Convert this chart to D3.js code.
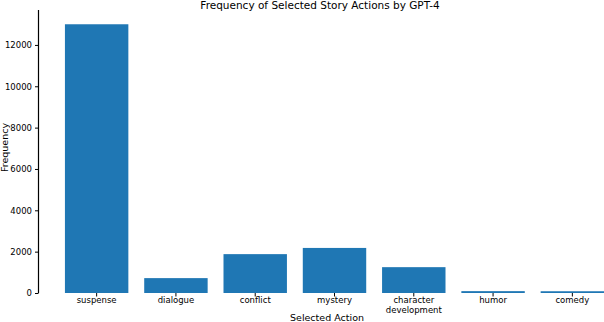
<!DOCTYPE html>
<html>
<head>
<meta charset="utf-8">
<script src="https://cdn.jsdelivr.net/npm/d3@7"></script>
<style>
  body { margin: 0; background: #fff; }
  text { font-family: "DejaVu Sans", sans-serif; fill: #000; }
</style>
</head>
<body>
<div id="chart"></div>
<script>
// data
const actions = ["suspense", "dialogue", "conflict", "mystery", "character development", "humor", "comedy"];
const counts = [13000, 720, 1880, 2180, 1250, 90, 85];
const yTicks = [0, 2000, 4000, 6000, 8000, 10000, 12000];

const width = 604, height = 322;
const margin = { top: 10, right: -8, bottom: 29, left: 38.5 };
const graphWidth = width - margin.left - margin.right;
const graphHeight = height - margin.top - margin.bottom;

const svg = d3.select("#chart").append("svg")
    .attr("width", width)
    .attr("height", height);

const graph = svg.append("g")
    .attr("transform", `translate(${margin.left},${margin.top})`);

const x = d3.scaleBand()
    .domain(actions)
    .range([18.5, 573.5])
    .paddingInner(0.2)
    .paddingOuter(0.1);

const y = d3.scaleLinear()
    .domain([0, 13690])
    .range([graphHeight, 0]);

// bars
graph.selectAll("rect")
    .data(actions)
    .enter().append("rect")
    .attr("x", d => x(d))
    .attr("y", (d, i) => y(counts[i]))
    .attr("width", x.bandwidth())
    .attr("height", (d, i) => graphHeight - y(counts[i]))
    .attr("fill", "#1f77b4");

// y axis (left spine only)
const yAxis = graph.append("g")
    .call(d3.axisLeft(y).tickValues(yTicks).tickFormat(d3.format("d")).tickSize(3.5).tickPadding(3));
yAxis.select(".domain").attr("d", `M0,0V${graphHeight}`).attr("stroke-width", 1.2);
yAxis.selectAll("text").style("font-size", "8.5px").style("font-family", "DejaVu Sans");

// x axis labels, no spine
const xAxis = graph.append("g")
    .attr("transform", `translate(0,${graphHeight})`)
    .call(d3.axisBottom(x).tickSize(3.5).tickPadding(2));
xAxis.select(".domain").remove();
xAxis.selectAll(".tick text").remove();
xAxis.selectAll(".tick").each(function(d) {
    const words = d === "character development" ? ["character", "development"] : [d];
    const t = d3.select(this).append("text")
        .attr("text-anchor", "middle")
        .style("font-size", "8.5px");
    words.forEach((w, i) => {
        t.append("tspan")
            .attr("x", 0)
            .attr("y", 9.5 + i * 10)
            .text(w);
    });
});

// title
svg.append("text")
    .attr("x", 320)
    .attr("y", 9)
    .attr("text-anchor", "middle")
    .style("font-size", "10.5px")
    .text("Frequency of Selected Story Actions by GPT-4");

// x label
svg.append("text")
    .attr("x", 327)
    .attr("y", 321)
    .attr("text-anchor", "middle")
    .style("font-size", "9.5px")
    .text("Selected Action");

// y label
svg.append("text")
    .attr("transform", "rotate(-90)")
    .attr("x", -(margin.top + graphHeight / 2) + 4)
    .attr("y", 8)
    .attr("text-anchor", "middle")
    .style("font-size", "9.5px")
    .text("Frequency");
</script>
</body>
</html>
